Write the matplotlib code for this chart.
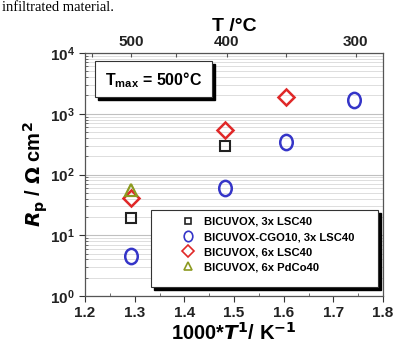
import numpy as np
import matplotlib
matplotlib.use("Agg")
import matplotlib.pyplot as plt
from matplotlib.patches import Rectangle
from matplotlib.lines import Line2D
from matplotlib.path import Path
from matplotlib.transforms import Affine2D

plt.rcParams['font.family'] = ['Liberation Sans', 'DejaVu Sans']
plt.rcParams['font.weight'] = 'bold'

# data (x = 1000/T in 1/K, y = Rp in Ohm cm2)
x_3x_lsc = [1.292, 1.482]
y_3x_lsc = [19, 295]
x_cgo = [1.292, 1.482, 1.605, 1.741]
y_cgo = [4.5, 60, 340, 1700]
x_6x_lsc = [1.292, 1.482, 1.605]
y_6x_lsc = [41, 540, 1900]
x_pdco = [1.292]
y_pdco = [55]

labels = ['BICUVOX, 3x LSC40', 'BICUVOX-CGO10, 3x LSC40',
          'BICUVOX, 6x LSC40', 'BICUVOX, 6x PdCo40']

top_ticks_C = [550, 500, 450, 400, 350, 300]
top_labels = ['', '500', '', '400', '', '300']

W, H = 397, 345
fig = plt.figure(figsize=(W / 100, H / 100), dpi=100)
L, R, T, B = 85, 383, 53, 296
ax = fig.add_axes([L / W, 1 - B / H, (R - L) / W, (B - T) / H])

ax.set_yscale('log')
ax.set_xlim(1.2, 1.8)
ax.set_ylim(1, 1e4)

ax.grid(True, which='major', axis='y', color='#c0c0c0', lw=0.8)
ax.grid(True, which='minor', axis='y', color='#d8d8d8', lw=0.6)
ax.set_axisbelow(True)

ell = Path.unit_circle().transformed(Affine2D().scale(0.82, 1.0))

styles = [
    dict(marker='s', ms=7, mec='#222222', mew=1.5),
    dict(marker=ell, ms=11, mec='#3535c8', mew=1.8),
    dict(marker='D', ms=8.5, mec='#e02828', mew=1.8),
    dict(marker='^', ms=8, mec='#8c9a20', mew=1.6),
]
series = [(x_3x_lsc, y_3x_lsc), (x_cgo, y_cgo), (x_6x_lsc, y_6x_lsc),
          (x_pdco, y_pdco)]
for (xs, ys), st, lab in zip(series, styles, labels):
    ax.plot(xs, ys, ls='none', mfc='none', label=lab, **st)

ax.set_xticks(np.arange(1.2, 1.81, 0.1))
ax.set_xticks(np.arange(1.25, 1.8, 0.1), minor=True)
ax.tick_params(axis='both', which='major', labelsize=11, direction='out',
               length=4, width=0.8, colors='#333333', labelcolor='#222222')
ax.tick_params(axis='both', which='minor', direction='in', length=2.5,
               width=0.6, colors='#555555')
for lab in ax.get_xticklabels() + ax.get_yticklabels():
    lab.set_fontweight('bold')
for s in ax.spines.values():
    s.set_color('#555555')
    s.set_linewidth(0.9)

ax.set_xlabel('1000*$\\mathbfit{T}^{1}$/ K$^{-1}$', fontsize=14.5,
              fontweight='bold', labelpad=1)
ax.set_ylabel('$\\mathbfit{R}_\\mathbf{p}$ / $\\mathbf{\\Omega}$ cm$^\\mathbf{2}$',
              fontsize=14.5, fontweight='bold', labelpad=0)

# top axis in degree C
ax2 = ax.twiny()
ax2.set_xlim(ax.get_xlim())
ax2.set_xticks([1000 / (t + 273.15) for t in top_ticks_C])
ax2.set_xticklabels(top_labels, fontsize=11, fontweight='bold')
ax2.tick_params(axis='x', direction='in', length=3, width=0.8, colors='#555555',
                labelcolor='#222222', pad=3)
ax2.set_xlabel('T /°C', fontsize=14, fontweight='bold', labelpad=3)
for s in ax2.spines.values():
    s.set_visible(False)


def ax_x(px):
    return (px - L) / (R - L)


def ax_y(py):
    return (B - py) / (B - T)


# boxes with a black drop shadow
def shadow_box(x0, y0, x1, y1, off=3):
    tr = ax.transAxes
    dx = off / (R - L)
    dy = off / (B - T)
    ax.add_patch(Rectangle((x0 + dx, y0 - dy), x1 - x0, y1 - y0, transform=tr,
                           facecolor='black', edgecolor='black', zorder=5,
                           clip_on=False))
    ax.add_patch(Rectangle((x0, y0), x1 - x0, y1 - y0, transform=tr,
                           facecolor='white', edgecolor='#333333', lw=0.8,
                           zorder=6, clip_on=False))


shadow_box(ax_x(95), ax_y(97), ax_x(212), ax_y(61))
ax.text(ax_x(154), ax_y(80), 'T$_{\\mathregular{max}}$ = 500°C', transform=ax.transAxes,
        ha='center', va='center', fontsize=11.5, fontweight='bold', zorder=7)

# legend with uniformly small markers
handles = []
for st, lab in zip(styles, labels):
    st2 = dict(st)
    st2['ms'] = st['ms'] * (5.5 / 8 if st['marker'] != 's' else 4.5 / 7)
    st2['mew'] = 1.2
    handles.append(Line2D([], [], ls='none', mfc='none', **st2))

shadow_box(ax_x(151), ax_y(287), ax_x(378), ax_y(210), off=3)
leg = ax.legend(handles, labels, loc='upper left',
                bbox_to_anchor=(ax_x(182), ax_y(217)),
                frameon=False, fontsize=8.1, handlelength=1.0,
                handletextpad=1.0, labelspacing=0.45, borderpad=0,
                borderaxespad=0)
leg.set_zorder(8)

fig.text(2 / W, 1 - 11 / H, 'infiltrated material.', fontsize=10.5,
         family='Liberation Serif', fontweight='normal', va='baseline')

fig.savefig('out.png', dpi=100)
